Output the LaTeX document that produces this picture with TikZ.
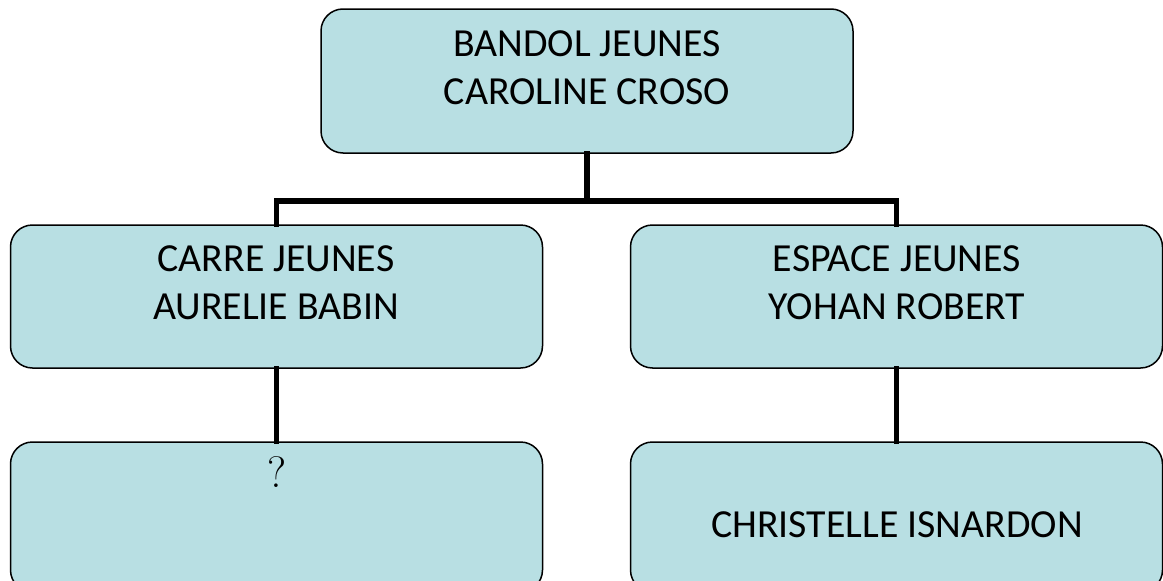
\documentclass[tikz,border=0pt]{standalone}
\usepackage{fontspec}
\newfontfamily\calibri{Carlito}
\definecolor{boxfill}{HTML}{B8DFE3}
\begin{document}
\begin{tikzpicture}[x=1pt,y=-1pt,
  box/.style={draw=black,line width=1.5pt,fill=boxfill,rounded corners=22pt,
    minimum width=532pt,inner sep=0pt},
  lbl/.style={anchor=base,inner sep=0pt,font=\calibri\fontsize{39.8}{46}\selectfont},
  qlbl/.style={anchor=base,inner sep=0pt,font=\fontsize{44}{50}\selectfont},
  conn/.style={line width=5.5pt,line join=miter,line cap=rect}]
\useasboundingbox (0,0) rectangle (1163,581);
\node[box,minimum height=144pt] (top) at (587,81) {};
\node[box,minimum height=143pt] (left) at (276.5,296.5) {};
\node[box,minimum height=143pt] (right) at (896.5,296.5) {};
\node[box,minimum height=150pt] (bl) at (276.5,517) {};
\node[box,minimum height=150pt] (br) at (896.5,517) {};
\coordinate (hub) at (587,201);
\draw[conn] (top.south) -- (hub);
\draw[conn] (left.north) |- (hub) -| (right.north);
\draw[conn] (left.south) -- (bl.north);
\draw[conn] (right.south) -- (br.north);
\node[lbl] (t1) at (587,56) {BANDOL JEUNES};
\node[lbl] (t2) at (587,104) {CAROLINE CROSO};
\node[lbl] (l1) at (276,271) {CARRE JEUNES};
\node[lbl] (l2) at (276,319) {AURELIE BABIN};
\node[lbl] (r1) at (897,271) {ESPACE JEUNES};
\node[lbl] (r2) at (897,319) {YOHAN ROBERT};
\node[qlbl] (q) at (277,487) {?};
\node[lbl] (c) at (897,537) {CHRISTELLE ISNARDON};
\end{tikzpicture}
\end{document}
